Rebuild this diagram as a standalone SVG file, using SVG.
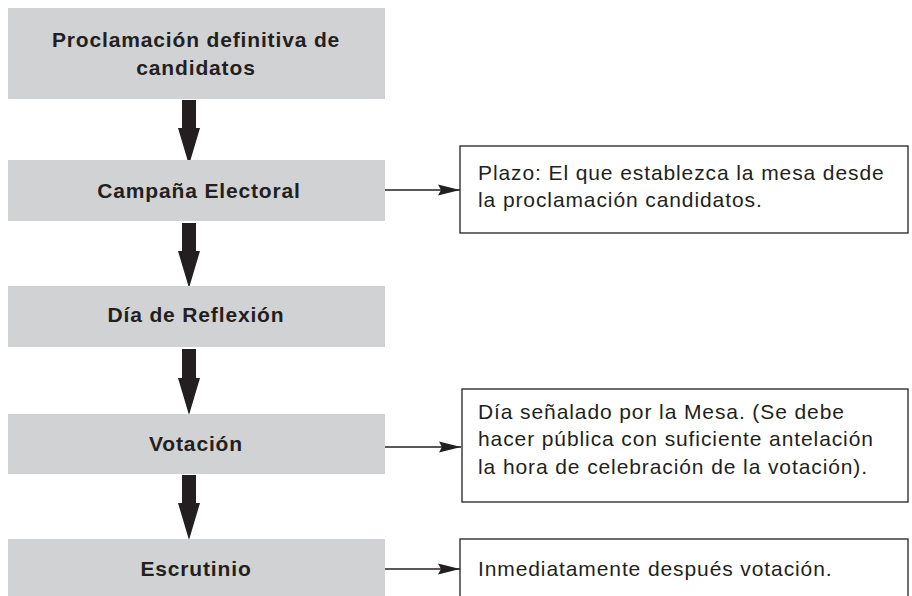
<svg xmlns="http://www.w3.org/2000/svg" width="912" height="596" viewBox="0 0 912 596">
<defs>
<style>
.step{fill:#d1d2d4;}
.st{font-family:"Liberation Sans",Arial,sans-serif;font-weight:bold;font-size:21px;letter-spacing:0.85px;fill:#231f20;text-anchor:middle;}
.note{fill:#fff;stroke:#231f20;stroke-width:1.3;}
.nt{font-family:"Liberation Sans",Arial,sans-serif;font-size:21px;letter-spacing:0.9px;fill:#231f20;}
.big{fill:#231f20;}
.con{stroke:#231f20;stroke-width:1.3;fill:none;marker-end:url(#ah);}
</style>
<marker id="ah" markerUnits="userSpaceOnUse" markerWidth="24" markerHeight="14" refX="22" refY="7" orient="auto">
<path d="M0,1.5 L22,7 L0,12.5 L3,7 Z" fill="#231f20"/>
</marker>
</defs>
<rect width="912" height="596" fill="#fff"/>
<g id="connectors">
<path class="big" d="M182,100 H196 V128 H200 L189,165 L178,128 H182 Z"/>
<path class="big" d="M182,223 H196 V251 H200 L189,288 L178,251 H182 Z"/>
<path class="big" d="M182,349 H196 V378 H200 L189,415 L178,378 H182 Z"/>
<path class="big" d="M182,475 H196 V503 H200 L189,540 L178,503 H182 Z"/>
<line class="con" x1="385" y1="190" x2="460" y2="190"/>
<line class="con" x1="385" y1="447" x2="461" y2="447"/>
<line class="con" x1="385" y1="569" x2="460" y2="569"/>
</g>
<g id="n1"><rect class="step" x="8" y="8" width="377" height="91"/>
<text class="st" x="196" y="47">Proclamación definitiva de</text>
<text class="st" x="196" y="75">candidatos</text></g>
<g id="n2"><rect class="step" x="8" y="160" width="377" height="61"/>
<text class="st" x="199" y="198">Campaña Electoral</text></g>
<g id="n3"><rect class="step" x="8" y="286" width="377" height="61"/>
<text class="st" x="196" y="322">Día de Reflexión</text></g>
<g id="n4"><rect class="step" x="8" y="414" width="377" height="60"/>
<text class="st" x="196" y="451">Votación</text></g>
<g id="n5"><rect class="step" x="8" y="539" width="377" height="60"/>
<text class="st" x="196" y="576">Escrutinio</text></g>
<g id="note1"><rect class="note" x="460" y="146" width="448" height="87"/>
<text class="nt" x="478" y="180">Plazo: El que establezca la mesa desde</text>
<text class="nt" x="478" y="207">la proclamación candidatos.</text></g>
<g id="note2"><rect class="note" x="462" y="389" width="446" height="113"/>
<text class="nt" x="478" y="419">Día señalado por la Mesa. (Se debe</text>
<text class="nt" x="478" y="446">hacer pública con suficiente antelación</text>
<text class="nt" x="478" y="474">la hora de celebración de la votación).</text></g>
<g id="note3"><rect class="note" x="460" y="539" width="448" height="70"/>
<text class="nt" x="478" y="576">Inmediatamente después votación.</text></g>
</svg>
